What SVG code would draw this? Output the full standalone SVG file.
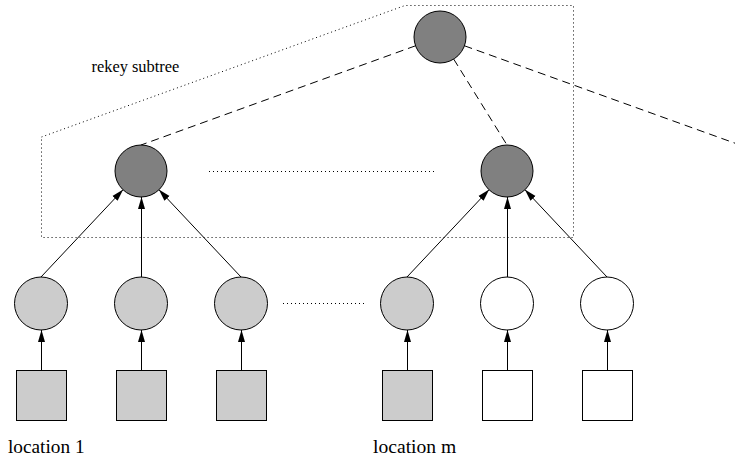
<svg xmlns="http://www.w3.org/2000/svg" width="735" height="462" viewBox="0 0 735 462">
<style>
.dark{fill:#808080;stroke:#000;stroke-width:1}
.light{fill:#cccccc;stroke:#000;stroke-width:1}
.white{fill:#fff;stroke:#000;stroke-width:1}
.arrow{stroke:#000;stroke-width:1;fill:none;marker-end:url(#ah)}
.dash{stroke:#000;stroke-width:1;fill:none;stroke-dasharray:8 5}
.dot{stroke:#000;stroke-width:1;fill:none;stroke-dasharray:1 3}
.lbl{font-family:"Liberation Serif","Times New Roman",serif;fill:#000}
</style>
<defs>
<marker id="ah" markerWidth="13" markerHeight="8" refX="12" refY="4" orient="auto" markerUnits="userSpaceOnUse">
<path d="M0,0.5 L12,4 L0,7.5 Z" fill="#000"/>
</marker>
</defs>
<rect width="735" height="462" fill="#fff"/>
<g id="rekey-box">
<polygon class="dot" points="41.5,137 405,5.5 573.5,5.5 573.5,237.5 41.5,237.5"/>
</g>
<g id="connectors">
<line class="dash" x1="415.5" y1="45.8" x2="141" y2="145"/>
<line class="dash" x1="453.7" y1="59.1" x2="507" y2="145"/>
<line class="dash" x1="464.5" y1="45.8" x2="740" y2="145"/>
<line class="dot" x1="209" y1="171.5" x2="437" y2="171.5"/>
<line class="dot" x1="283" y1="303.5" x2="367" y2="303.5"/>
<line class="arrow" x1="41" y1="277" x2="123.2" y2="189.6"/>
<line class="arrow" x1="141.5" y1="277" x2="141.5" y2="197"/>
<line class="arrow" x1="241" y1="277" x2="158.8" y2="189.6"/>
<line class="arrow" x1="407" y1="277" x2="489.2" y2="189.6"/>
<line class="arrow" x1="507.5" y1="277" x2="507.5" y2="197"/>
<line class="arrow" x1="607" y1="277" x2="524.8" y2="189.6"/>
<line class="arrow" x1="41.5" y1="370" x2="41.5" y2="330"/>
<line class="arrow" x1="141.5" y1="370" x2="141.5" y2="330"/>
<line class="arrow" x1="241.5" y1="370" x2="241.5" y2="330"/>
<line class="arrow" x1="407.5" y1="370" x2="407.5" y2="330"/>
<line class="arrow" x1="507.5" y1="370" x2="507.5" y2="330"/>
<line class="arrow" x1="607.5" y1="370" x2="607.5" y2="330"/>
</g>
<g id="root"><circle class="dark" cx="440" cy="37" r="26"/></g>
<g id="mid1"><circle class="dark" cx="141" cy="171" r="26"/></g>
<g id="mid2"><circle class="dark" cx="507" cy="171" r="26"/></g>
<g id="leaf1"><circle class="light" cx="41" cy="303.5" r="26.5"/></g>
<g id="leaf2"><circle class="light" cx="141" cy="303.5" r="26.5"/></g>
<g id="leaf3"><circle class="light" cx="241" cy="303.5" r="26.5"/></g>
<g id="leaf4"><circle class="light" cx="407" cy="303.5" r="26.5"/></g>
<g id="leaf5"><circle class="white" cx="507" cy="303.5" r="26.5"/></g>
<g id="leaf6"><circle class="white" cx="607" cy="303.5" r="26.5"/></g>
<g id="user1"><rect class="light" x="16.5" y="370.5" width="50" height="50"/></g>
<g id="user2"><rect class="light" x="116.5" y="370.5" width="50" height="50"/></g>
<g id="user3"><rect class="light" x="216.5" y="370.5" width="50" height="50"/></g>
<g id="user4"><rect class="light" x="382.5" y="370.5" width="50" height="50"/></g>
<g id="user5"><rect class="white" x="482.5" y="370.5" width="50" height="50"/></g>
<g id="user6"><rect class="white" x="582.5" y="370.5" width="50" height="50"/></g>
<g id="labels">
<text class="lbl" x="91.5" y="72" font-size="16.4">rekey subtree</text>
<text class="lbl" x="8" y="452.5" font-size="19.3">location 1</text>
<text class="lbl" x="373" y="452.5" font-size="19.6">location m</text>
</g>
</svg>
